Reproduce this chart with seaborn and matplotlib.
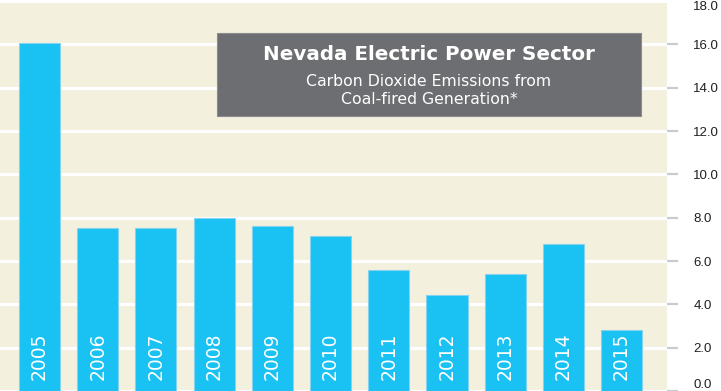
import matplotlib
matplotlib.use("Agg")
import matplotlib.pyplot as plt
import seaborn as sns
import pandas as pd
from matplotlib.patches import Rectangle

# Data
years = ["2005", "2006", "2007", "2008", "2009", "2010",
         "2011", "2012", "2013", "2014", "2015"]
emissions = [16.05, 7.52, 7.54, 8.0, 7.63, 7.17, 5.6, 4.42, 5.41, 6.8, 2.8]
y_ticks = [0, 2, 4, 6, 8, 10, 12, 14, 16, 18]

title = "Nevada Electric Power Sector"
subtitle = ["Carbon Dioxide Emissions from", "Coal-fired Generation*"]

BG = "#f4f0de"
BAR = "#19c2f3"
BAR_EDGE = "#86d3ef"
BOX = "#6d6e71"
TICK = "#c8cbd0"

sns.set_style("white")
plt.rcParams["font.family"] = ["DejaVu Sans"]

df = pd.DataFrame({"year": years, "value": emissions})

fig = plt.figure(figsize=(7.21, 3.91), dpi=100)
ax = fig.add_axes([0, 0, 667 / 721, 390 / 391])
ax.set_facecolor(BG)

sns.barplot(data=df, x="year", y="value", color=BAR, width=0.705,
            edgecolor=BAR_EDGE, linewidth=0.8, saturation=1, ax=ax, zorder=3)

ax.set_xlim(-0.68, 10.78)
ax.set_ylim(0, 18)
ax.set_yticks(y_ticks)
ax.set_yticklabels([f"{t:.1f}" for t in y_ticks], fontsize=9.5,
                   color="#231f20", family="Liberation Sans")
ax.yaxis.tick_right()
ax.tick_params(axis="y", length=8, width=1.6, color=TICK, pad=11, right=True)
ax.set_xticks([])
ax.set_xlabel("")
ax.set_ylabel("")
ax.grid(axis="y", color="white", linewidth=2.3, zorder=1)
ax.set_axisbelow(True)
for s in ax.spines.values():
    s.set_visible(False)

# keep the end labels inside the picture
labels = ax.get_yticklabels()
labels[0].set_verticalalignment("bottom")
labels[-1].set_verticalalignment("top")
ax.yaxis.get_major_ticks()[-1].tick2line.set_visible(False)

# year labels inside bars
for i, yr in enumerate(years):
    ax.text(i, 0.5, yr, rotation=90, ha="center", va="bottom",
            color="white", fontsize=13.5, zorder=4)

# title box
fig.patches.append(Rectangle((217 / 721, 1 - 116 / 391), 424 / 721, 83 / 391,
                             transform=fig.transFigure, facecolor=BOX,
                             edgecolor="#8a8b8e", linewidth=0.8, zorder=5))
fig.text(429 / 721, 1 - 55 / 391, title, ha="center", va="center",
         color="white", fontsize=14.3, fontweight="bold", zorder=6)
fig.text(429 / 721, 1 - 81 / 391, subtitle[0], ha="center", va="center",
         color="white", fontsize=11.3, zorder=6)
fig.text(429 / 721, 1 - 99 / 391, subtitle[1], ha="center", va="center",
         color="white", fontsize=11.3, zorder=6)

fig.savefig("out.png", dpi=100)
